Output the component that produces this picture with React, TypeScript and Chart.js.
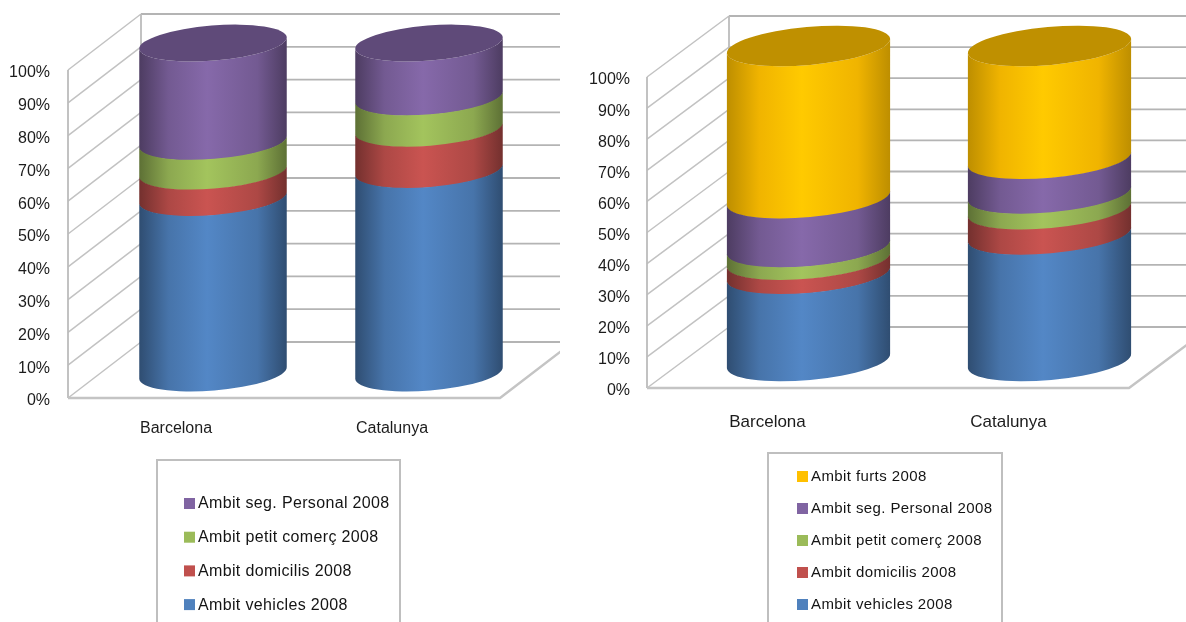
import React, { useEffect, useRef } from "react";
import { Chart, registerables } from "chart.js";

Chart.register(...registerables);

const categories = ["Barcelona", "Catalunya"];
const tickSuffix = "%";

const labelVehicles = "Ambit vehicles 2008";
const labelDomicilis = "Ambit domicilis 2008";
const labelComerc = "Ambit petit comerç 2008";
const labelPersonal = "Ambit seg. Personal 2008";
const labelFurts = "Ambit furts 2008";

const leftVehicles = [53, 61.5];
const leftDomicilis = [8, 12.5];
const leftComerc = [9, 9.5];
const leftPersonal = [30, 16.5];

const rightVehicles = [27.5, 40];
const rightDomicilis = [4.5, 8];
const rightComerc = [4, 5];
const rightPersonal = [15.5, 11];
const rightFurts = [48.5, 36];

const blue = "#4f81bd";
const red = "#c0504d";
const green = "#9bbb59";
const purple = "#8064a2";
const gold = "#ffc000";

const capColors: Record<string, string> = { [purple]: "#5f4a79", [gold]: "#bf9000" };
const FONT = '"Liberation Sans", Arial, sans-serif';

function shade(hex: string, f: number) {
  const n = parseInt(hex.slice(1), 16);
  const c = [(n >> 16) & 255, (n >> 8) & 255, n & 255].map((v) => Math.min(255, Math.round(v * f)));
  return `rgb(${c[0]},${c[1]},${c[2]})`;
}

const scene3d = {
  id: "scene3d",
  beforeDatasetsDraw(chart: any, _a: any, o: any) {
    const { ctx, chartArea: area, scales } = chart;
    const y = scales.y;
    ctx.save();
    ctx.lineCap = "butt";
    const ticks: number[] = y.ticks.map((t: any) => t.value);
    // side wall diagonals
    ctx.strokeStyle = "#c2c2c2";
    ctx.lineWidth = 1.5;
    for (const v of ticks) {
      const p = y.getPixelForValue(v);
      ctx.beginPath();
      ctx.moveTo(area.left, p);
      ctx.lineTo(area.left + o.depthX, p + o.depthY);
      ctx.stroke();
    }
    // back wall
    ctx.strokeStyle = "#b4b4b4";
    ctx.lineWidth = 1.8;
    for (const v of ticks) {
      const p = y.getPixelForValue(v) + o.depthY;
      ctx.beginPath();
      ctx.moveTo(area.left + o.depthX, p);
      ctx.lineTo(area.right + o.depthX + o.extraBack, p);
      ctx.stroke();
    }
    // verticals
    ctx.strokeStyle = "#bcbcbc";
    ctx.beginPath();
    ctx.moveTo(area.left, area.top);
    ctx.lineTo(area.left, area.bottom);
    ctx.moveTo(area.left + o.depthX, area.top + o.depthY);
    ctx.lineTo(area.left + o.depthX, area.bottom + o.depthY);
    ctx.stroke();
    // floor
    ctx.lineWidth = 2.4;
    ctx.strokeStyle = "#c4c4c4";
    ctx.beginPath();
    ctx.moveTo(area.left, area.bottom);
    ctx.lineTo(area.right, area.bottom);
    ctx.lineTo(area.right + o.depthX, area.bottom + o.depthY);
    ctx.stroke();
    ctx.restore();
  },
  beforeDatasetDraw(chart: any, args: any, o: any) {
    const { ctx, scales } = chart;
    const zero = scales.y.getPixelForValue(0);
    const ds = chart.data.datasets[args.index];
    const color: string = ds.backgroundColor;
    const isTop = args.index === chart.data.datasets.length - 1;
    const map = (p: number) => zero + (p - zero) * o.stretch + o.cylDy;
    args.meta.data.forEach((bar: any) => {
      const rx = bar.width / 2;
      const cx = bar.x + o.cylDx;
      const yb = map(bar.base);
      const yt = map(bar.y);
      const g = ctx.createLinearGradient(cx - rx, 0, cx + rx, 0);
      const edge = color === gold ? 0.74 : 0.6;
      const mid = color === gold ? 0.94 : 0.9;
      g.addColorStop(0, shade(color, edge));
      g.addColorStop(0.2, shade(color, mid));
      g.addColorStop(0.46, shade(color, 1.05));
      g.addColorStop(0.8, shade(color, mid));
      g.addColorStop(1, shade(color, edge));
      ctx.save();
      ctx.fillStyle = g;
      ctx.beginPath();
      ctx.ellipse(cx, yb, rx, o.ry, o.rot, 0, Math.PI, false);
      ctx.ellipse(cx, yt - (isTop ? 0 : 0.6), rx, o.ry, o.rot, Math.PI, 0, true);
      ctx.closePath();
      ctx.fill();
      if (isTop) {
        ctx.fillStyle = capColors[color] || shade(color, 0.75);
        ctx.beginPath();
        ctx.ellipse(cx, yt, rx, o.ry, o.rot, 0, Math.PI * 2);
        ctx.fill();
      }
      ctx.restore();
    });
    return false;
  },
  afterDraw(chart: any, _a: any, o: any) {
    const { ctx } = chart;
    const b = o.box;
    ctx.save();
    ctx.strokeStyle = "#bfbfbf";
    ctx.lineWidth = 2;
    ctx.beginPath();
    ctx.moveTo(b.left, chart.height + 4);
    ctx.lineTo(b.left, b.top);
    ctx.lineTo(b.right, b.top);
    ctx.lineTo(b.right, chart.height + 4);
    ctx.stroke();
    ctx.font = `${b.fontSize}px ${FONT}`;
    (ctx as any).letterSpacing = `${b.spacing}px`;
    ctx.textBaseline = "middle";
    ctx.textAlign = "left";
    const items = [...chart.data.datasets].reverse();
    items.forEach((d: any, i: number) => {
      const yc = b.firstY + i * b.step;
      ctx.fillStyle = d.backgroundColor;
      ctx.fillRect(b.swatchX, yc - 5, 11, 11);
      ctx.fillStyle = "#141414";
      ctx.fillText(d.label, b.swatchX + 14, yc + 1);
    });
    (ctx as any).letterSpacing = "0px";
    ctx.restore();
  },
};

type Cfg = {
  width: number;
  left: number;
  right: number;
  top: number;
  bottom: number;
  yPad: number;
  xPad: number;
  xFont: number;
  barPct: number;
  series: { label: string; data: number[]; color: string }[];
  scene: any;
};

function ChartPanel({ cfg, x }: { cfg: Cfg; x: number }) {
  const ref = useRef<HTMLCanvasElement>(null);
  useEffect(() => {
    const chart = new Chart(ref.current as HTMLCanvasElement, {
      type: "bar",
      data: {
        labels: categories,
        datasets: cfg.series.map((s) => ({
          label: s.label,
          data: s.data,
          backgroundColor: s.color,
          barPercentage: cfg.barPct,
          categoryPercentage: 1,
        })),
      },
      plugins: [scene3d as any],
      options: {
        responsive: false,
        animation: false,
        layout: { padding: { top: cfg.top, right: cfg.width - cfg.right, left: 0, bottom: 0 } },
        plugins: {
          legend: { display: false },
          tooltip: { enabled: false },
          scene3d: cfg.scene,
        } as any,
        scales: {
          x: {
            stacked: true,
            grid: { display: false, drawTicks: false },
            border: { display: false },
            ticks: { padding: cfg.xPad, color: "#1c1c1c", font: { family: FONT, size: cfg.xFont } },
            afterFit: (s: any) => {
              s.height = 622 - cfg.bottom;
            },
          },
          y: {
            stacked: true,
            min: 0,
            max: 100,
            grid: { display: false, drawTicks: false },
            border: { display: false },
            ticks: {
              stepSize: 10,
              padding: cfg.yPad,
              labelOffset: 3,
              color: "#1c1c1c",
              font: { family: FONT, size: 16 },
              callback: (v: any) => `${v}${tickSuffix}`,
            },
            afterFit: (s: any) => {
              s.width = cfg.left;
            },
          },
        },
      } as any,
    });
    return () => chart.destroy();
  }, []);
  return (
    <canvas
      ref={ref}
      width={cfg.width}
      height={622}
      style={{ position: "absolute", left: x, top: 0, width: cfg.width, height: 622, filter: "blur(0.45px)" }}
    />
  );
}

const leftCfg: Cfg = {
  width: 560,
  left: 68,
  right: 500,
  top: 70,
  bottom: 398,
  yPad: 18,
  xPad: 21,
  xFont: 16,
  barPct: 0.685,
  series: [
    { label: labelVehicles, data: leftVehicles, color: blue },
    { label: labelDomicilis, data: leftDomicilis, color: red },
    { label: labelComerc, data: leftComerc, color: green },
    { label: labelPersonal, data: leftPersonal, color: purple },
  ],
  scene: {
    depthX: 73,
    depthY: -56,
    extraBack: 0,
    cylDx: 37,
    cylDy: -25,
    stretch: 1.006,
    rot: -0.08,
    ry: 17.5,
    box: { left: 157, right: 400, top: 460, swatchX: 184, firstY: 503, step: 33.7, fontSize: 16, spacing: 0.35 },
  },
};

const rightCfg: Cfg = {
  width: 606,
  left: 67,
  right: 549,
  top: 77,
  bottom: 388,
  yPad: 17,
  xPad: 24,
  xFont: 17,
  barPct: 0.68,
  series: [
    { label: labelVehicles, data: rightVehicles, color: blue },
    { label: labelDomicilis, data: rightDomicilis, color: red },
    { label: labelComerc, data: rightComerc, color: green },
    { label: labelPersonal, data: rightPersonal, color: purple },
    { label: labelFurts, data: rightFurts, color: gold },
  ],
  scene: {
    depthX: 82,
    depthY: -61,
    extraBack: 0,
    cylDx: 41,
    cylDy: -27,
    stretch: 1.013,
    rot: -0.09,
    ry: 19,
    box: { left: 188, right: 422, top: 453, swatchX: 217, firstY: 476, step: 32, fontSize: 15, spacing: 0.4 },
  },
};

export default function App() {
  return (
    <div style={{ position: "fixed", left: 0, top: 0, width: 1186, height: 622, overflow: "hidden", background: "#fff" }}>
      <ChartPanel cfg={leftCfg} x={0} />
      <ChartPanel cfg={rightCfg} x={580} />
    </div>
  );
}
